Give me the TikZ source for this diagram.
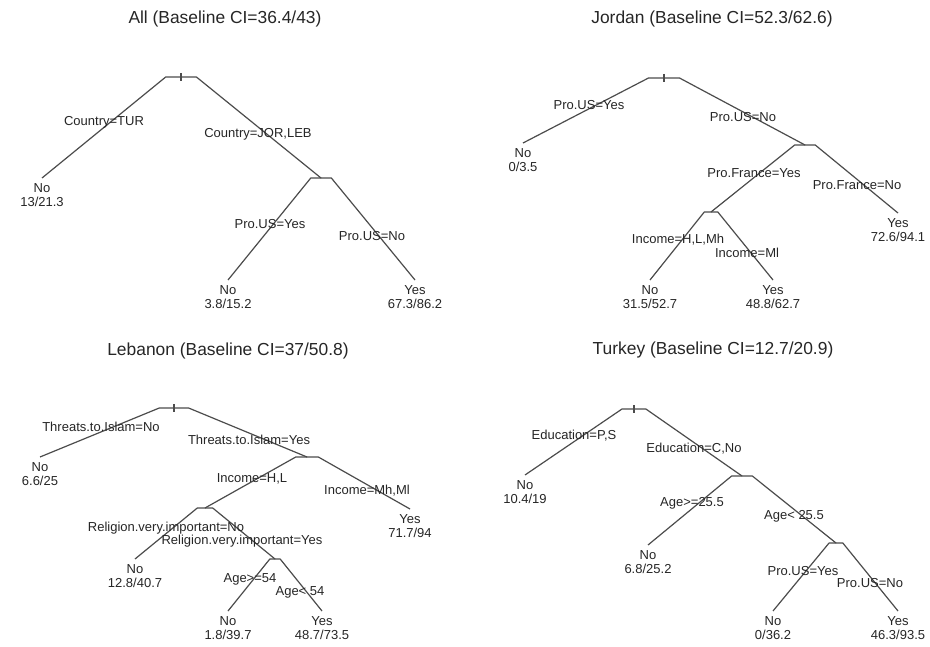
\documentclass[tikz,border=0pt]{standalone}
\usepackage{fontspec}
\setmainfont{Liberation Sans}
\usetikzlibrary{calc}
\tikzset{
  lab/.style={font=\fontsize{13}{15}\selectfont, inner sep=0pt, text height=9.4pt, text depth=0pt, text=black!85},
  ttl/.style={font=\fontsize{17.4}{20}\selectfont, inner sep=0pt, text height=12.5pt, text depth=0pt, text=black!85},
  br/.style={draw=black!70, line width=1.2pt, line join=round},
}
\newcommand\tedge[2]{\draw[br] (#1) -- ($(#1)!0.11!(#1 -| #2)$) -- (#2);}
\newcommand\mkleaf[4]{%
  \coordinate (#1) at (#2);
  \node[lab] (#1a) at ($(#1)+(0,10)$) {#3};
  \node[lab] (#1b) at ($(#1)+(0,24)$) {#4};}
\newcommand\roottick[1]{\draw[br] ($(#1)+(0,-4)$) -- ($(#1)+(0,4)$);}
\begin{document}
\begin{tikzpicture}[x=1pt,y=-1pt]
\useasboundingbox[fill=white] (0,0) rectangle (930,647);

% ---------------- All ----------------
\node[ttl] (tA) at (225,17) {All (Baseline CI=36.4/43)};
\coordinate (RA) at (181,77);
\coordinate (NA1) at (321,178);
\mkleaf{LA1}{42,178}{No}{13/21.3}
\mkleaf{LA2}{228,280}{No}{3.8/15.2}
\mkleaf{LA3}{415,280}{Yes}{67.3/86.2}
\tedge{RA}{LA1}
\tedge{RA}{NA1}
\tedge{NA1}{LA2}
\tedge{NA1}{LA3}
\roottick{RA}
\node[lab] (sA1) at (104,121) {Country=TUR};
\node[lab] (sA2) at (258,133) {Country=JOR,LEB};
\node[lab] (sA3) at (270,224) {Pro.US=Yes};
\node[lab] (sA4) at (372,236) {Pro.US=No};

% ---------------- Jordan ----------------
\node[ttl] (tJ) at (712,17) {Jordan (Baseline CI=52.3/62.6)};
\coordinate (RJ) at (664,78);
\coordinate (NJ1) at (805,145);
\coordinate (NJ2) at (711,212);
\mkleaf{LJ1}{523,143}{No}{0/3.5}
\mkleaf{LJ2}{650,280}{No}{31.5/52.7}
\mkleaf{LJ3}{773,280}{Yes}{48.8/62.7}
\mkleaf{LJ4}{898,213}{Yes}{72.6/94.1}
\tedge{RJ}{LJ1}
\tedge{RJ}{NJ1}
\tedge{NJ1}{NJ2}
\tedge{NJ1}{LJ4}
\tedge{NJ2}{LJ2}
\tedge{NJ2}{LJ3}
\roottick{RJ}
\node[lab] (sJ1) at (589,105) {Pro.US=Yes};
\node[lab] (sJ2) at (743,117) {Pro.US=No};
\node[lab] (sJ3) at (754,173) {Pro.France=Yes};
\node[lab] (sJ4) at (857,185) {Pro.France=No};
\node[lab] (sJ5) at (678,239) {Income=H,L,Mh};
\node[lab] (sJ6) at (747,253) {Income=Ml};

% ---------------- Lebanon ----------------
\node[ttl] (tL) at (228,349) {Lebanon (Baseline CI=37/50.8)};
\coordinate (RL) at (174,408);
\coordinate (NL1) at (307,457);
\coordinate (NL2) at (205,508);
\coordinate (NL3) at (275,559);
\mkleaf{LL1}{40,457}{No}{6.6/25}
\mkleaf{LL2}{410,509}{Yes}{71.7/94}
\mkleaf{LL3}{135,559}{No}{12.8/40.7}
\mkleaf{LL4}{228,611}{No}{1.8/39.7}
\mkleaf{LL5}{322,611}{Yes}{48.7/73.5}
\tedge{RL}{LL1}
\tedge{RL}{NL1}
\tedge{NL1}{NL2}
\tedge{NL1}{LL2}
\tedge{NL2}{LL3}
\tedge{NL2}{NL3}
\tedge{NL3}{LL4}
\tedge{NL3}{LL5}
\roottick{RL}
\node[lab] (sL1) at (101,427) {Threats.to.Islam=No};
\node[lab] (sL2) at (249,440) {Threats.to.Islam=Yes};
\node[lab] (sL3) at (252,478) {Income=H,L};
\node[lab] (sL4) at (367,490) {Income=Mh,Ml};
\node[lab] (sL5) at (166,527) {Religion.very.important=No};
\node[lab] (sL6) at (242,540) {Religion.very.important=Yes};
\node[lab] (sL7) at (250,578) {Age>=54};
\node[lab] (sL8) at (300,591) {Age< 54};

% ---------------- Turkey ----------------
\node[ttl] (tT) at (713,348) {Turkey (Baseline CI=12.7/20.9)};
\coordinate (RT) at (634,409);
\coordinate (NT1) at (742,476);
\coordinate (NT2) at (836,543);
\mkleaf{LT1}{525,475}{No}{10.4/19}
\mkleaf{LT2}{648,545}{No}{6.8/25.2}
\mkleaf{LT3}{773,611}{No}{0/36.2}
\mkleaf{LT4}{898,611}{Yes}{46.3/93.5}
\tedge{RT}{LT1}
\tedge{RT}{NT1}
\tedge{NT1}{LT2}
\tedge{NT1}{NT2}
\tedge{NT2}{LT3}
\tedge{NT2}{LT4}
\roottick{RT}
\node[lab] (sT1) at (574,435) {Education=P,S};
\node[lab] (sT2) at (694,448) {Education=C,No};
\node[lab] (sT3) at (692,502) {Age>=25.5};
\node[lab] (sT4) at (794,515) {Age< 25.5};
\node[lab] (sT5) at (803,571) {Pro.US=Yes};
\node[lab] (sT6) at (870,583) {Pro.US=No};
\end{tikzpicture}
\end{document}
